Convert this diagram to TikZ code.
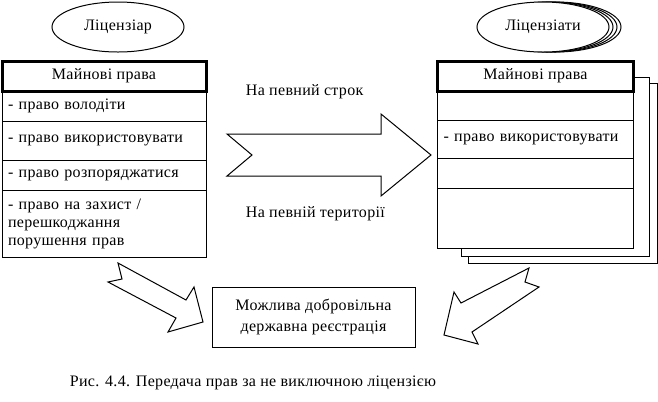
\documentclass[tikz,border=0pt]{standalone}
\usepackage{fontspec}
\setmainfont[LetterSpace=2]{Liberation Serif}
\usetikzlibrary{positioning,shapes.geometric}

\begin{document}
\begin{tikzpicture}[x=0.75pt,y=-0.75pt,line width=0.75pt,
    font=\rmfamily\fontsize{12}{13.5}\selectfont,
    party/.style={ellipse,draw,fill=white,minimum width=99pt,minimum height=37.5pt,inner sep=0pt},
    head/.style={draw,fill=white,line width=2.25pt,outer sep=0pt,minimum height=22.5pt,inner sep=0pt},
    cell/.style={draw,fill=white,outer sep=0pt,align=left,inner xsep=4.5pt,inner ysep=0pt},
    page/.style={draw,fill=white},
    bigarrow/.style={draw,line join=miter}]
    \useasboundingbox (0,0) rectangle (658,401);

    % licensor side
    \node[party] (licensor) at (118,27) {Ліцензіар};
    \node[cell,anchor=north,text width=144pt,minimum height=22.5pt] (lrow1) at (104,91) {- право володіти};
    \node[head,minimum width=153pt] (lhead) [above=0pt of lrow1] {Майнові права};
    \node[cell,text width=144pt,minimum height=29.25pt] (lrow2) [below=0pt of lrow1] {- право використовувати};
    \node[cell,text width=144pt,minimum height=22.5pt] (lrow3) [below=0pt of lrow2] {- право розпоряджатися};
    \node[cell,text width=144pt,minimum height=50.25pt] (lrow4) [below=0pt of lrow3] {- право на захист /\\перешкоджання\\порушення прав};

    % licensees side
    \node[party] (lics3) at (555,27) {};
    \node[party] (lics2) at (551,27) {};
    \node[party] (lics1) at (547,27) {};
    \node[party] (licensee) at (543,27) {Ліцензіати};
    \draw[page] (468,83) rectangle (657,263);
    \draw[page] (461,77) rectangle (649,256);
    \node[cell,anchor=north,text width=138pt,minimum height=21.75pt] (rrow1) at (535.5,91) {};
    \node[head,minimum width=147pt] (rhead) [above=0pt of rrow1] {Майнові права};
    \node[cell,text width=138pt,minimum height=28.5pt] (rrow2) [below=0pt of rrow1] {- право використовувати};
    \node[cell,text width=138pt,minimum height=22.5pt] (rrow3) [below=0pt of rrow2] {};
    \node[cell,text width=138pt,minimum height=45pt] (rrow4) [below=0pt of rrow3] {};

    % transfer
    \draw[bigarrow] (227,134) -- (381,134) -- (381,114) -- (431,155) -- (381,196)
        -- (381,176) -- (227,176) -- (252,155) -- cycle;
    \node[anchor=west] (term) at (241,92) {На певний строк};
    \node[anchor=west] (area) at (241,214) {На певній території};

    % registration
    \node[draw,minimum width=152.25pt,minimum height=45pt,align=center] (reg) at (313.5,317)
        {Можлива добровільна\\[2.25pt]державна реєстрація};
    \draw[bigarrow] (118,263) -- (186,300) -- (194,287) -- (203,322) -- (168,332)
        -- (176,318) -- (108,282) -- (122,279) -- cycle;
    \draw[bigarrow] (529,268) -- (461,303) -- (454,292) -- (444,335) -- (478,344)
        -- (472,332) -- (539,287) -- (525,282) -- cycle;

    \node (caption) at (253,383) {Рис. 4.4. Передача прав за не виключною ліцензією};
\end{tikzpicture}
\end{document}
